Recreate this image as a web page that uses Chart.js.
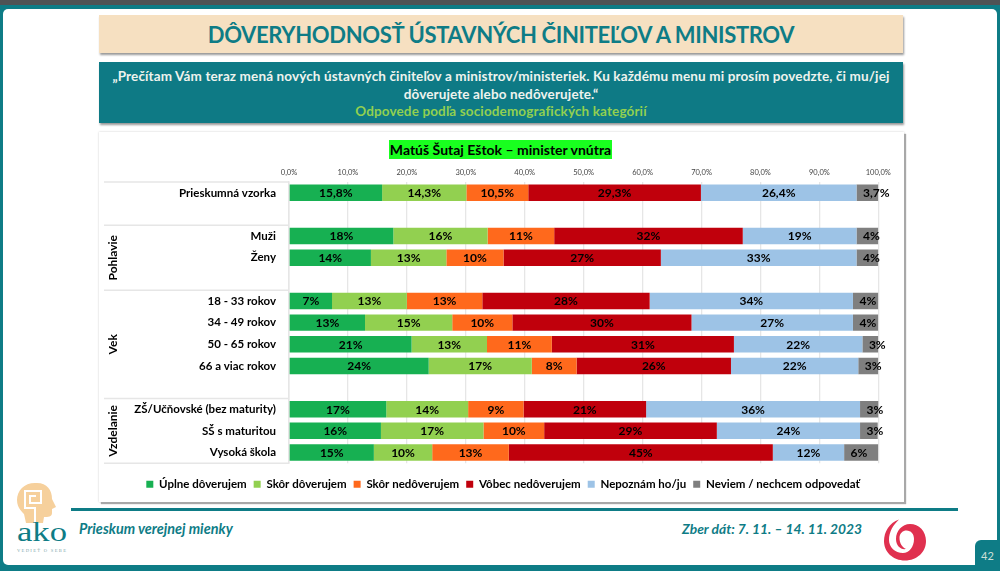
<!DOCTYPE html>
<html lang="sk">
<head>
<meta charset="utf-8">
<title>Dôveryhodnosť ústavných činiteľov a ministrov</title>
<script src="https://cdn.jsdelivr.net/npm/chart.js@4"></script>
<style>
    html, body { margin: 0; padding: 0; }
    body { position: relative; width: 1000px; height: 571px; overflow: hidden; background: #0e7c86; font-family: Lato, sans-serif; }
    .abs { position: absolute; }
    #topBar { left: 0; top: 0; width: 1000px; height: 5px; background: #4f5355; }
    #sheet { left: 3px; top: 9px; width: 994px; height: 556px; background: #fff; border-radius: 5px; }
    #titleBox { left: 99px; top: 15px; width: 804px; height: 38px; background: #f6e0c1; box-shadow: 1px 2px 2px #999;
        color: #0e7c86; font-weight: 700; font-size: 22px; letter-spacing: -0.35px; line-height: 40px; text-align: center; white-space: nowrap; }
    #questionBox { left: 99px; top: 62px; width: 804px; height: 61px; background: #0e7a85; box-shadow: 1px 2px 2px #999;
        color: #eef3ee; font-weight: 700; font-size: 13.5px; letter-spacing: 0.13px; line-height: 17.6px; text-align: center; padding-top: 6px; box-sizing: border-box; white-space: nowrap; }
    #questionBox .sub { color: #92d050; }
    #chartBox { left: 99px; top: 132px; width: 805px; height: 370px; background: #fff; box-shadow: 2px 2px 1px #a8a8a8, 0 0 2px #ccc; }
    #nameBox { left: 389px; top: 140px; width: 223px; height: 19px; background: #19ff1f; color: #000;
        font-weight: 700; font-size: 14px; line-height: 19px; text-align: center; white-space: nowrap; }
    #footLine { left: 71px; top: 508px; width: 887px; height: 3px; background: #0e7c86; }
    .foot { top: 520px; color: #0e7c86; font-weight: 700; font-style: italic; line-height: 18px; white-space: nowrap; }
    #pageBox { left: 975px; top: 540px; width: 25px; height: 31px; background: #0e7c86; border-top-left-radius: 6px; color: #cfe0d8; font-size: 11px; line-height: 31px; text-align: center; }
    #trustChart { display: block; }
</style>
</head>
<body>
<div class="abs" id="topBar"></div>
<div class="abs" id="sheet"></div>
<div class="abs" id="titleBox">DÔVERYHODNOSŤ ÚSTAVNÝCH ČINITEĽOV A MINISTROV</div>
<div class="abs" id="questionBox">„Prečítam Vám teraz mená nových ústavných činiteľov a ministrov/ministeriek. Ku každému menu mi prosím povedzte, či mu/jej<br>dôverujete alebo nedôverujete.“<br><span class="sub">Odpovede podľa sociodemografických kategórií</span></div>
<div class="abs" id="chartBox"><canvas id="trustChart" width="805" height="370"></canvas></div>
<div class="abs" id="nameBox">Matúš Šutaj Eštok – minister vnútra</div>
<div class="abs" id="footLine"></div>
<div class="abs foot" style="left:79px;font-size:14.4px">Prieskum verejnej mienky</div>
<div class="abs foot" style="left:682px;font-size:13.8px">Zber dát: 7. 11. – 14. 11. 2023</div>
<div class="abs" id="pageBox">42</div>

<!-- ako logo -->
<svg class="abs" style="left:14px;top:480px" width="58" height="80" viewBox="14 480 58 80">
    <path d="M37 483 C25 482 17 490 17 500 C17 507 21 511 24 514 L26 523 L43 523 L44 517 C48 517 52 517 52 513 L52 509 L56 507 L52 499 C52 490 47 483 37 483 Z" fill="#f6d09c"/>
    <path d="M35 523 V508 H25 V491 H41 V503 H30 V496 H36" fill="none" stroke="#fff" stroke-width="2"/>
    <text x="17" y="541" textLength="50" lengthAdjust="spacingAndGlyphs" font-family="'Liberation Serif', serif" font-size="27" fill="#0e7c86">ako</text>
    <text x="17" y="552" textLength="49" font-family="'Liberation Serif', serif" font-size="4.6" fill="#7fa9ac">VEDIEŤ O SEBE</text>
</svg>
<!-- spiral logo -->
<svg class="abs" style="left:882px;top:518px" width="46" height="44" viewBox="882 518 46 44">
    <path d="M899 519.5 C889 523 884 532 884 541 C884 552 893 560.5 905 560.5 C917 560.5 926 552 926 541 C926 531 919 524 910 524 C902 524 896 531 896 539 C896 546 901 550 906 549 C902 547 899.5 543 899.5 538 C899.5 533 903 530.5 906.5 530.5 C911 530.5 914 534 914 539 C914 547 909 553 903 553 C895 553 889 547 889 540 C889 532 893 525 899 519.5 Z" fill="#e0304f"/>
</svg>

<script>
// Rows of the chart, blank entries are the gaps between the groups
const categories = [
    'Prieskumná vzorka', '',
    'Muži', 'Ženy', '',
    '18 - 33 rokov', '34 - 49 rokov', '50 - 65 rokov', '66 a viac rokov', '',
    'ZŠ/Učňovské (bez maturity)', 'SŠ s maturitou', 'Vysoká škola'
];

const seriesNames = ['Úplne dôverujem', 'Skôr dôverujem', 'Skôr nedôverujem', 'Vôbec nedôverujem', 'Nepoznám ho/ju', 'Neviem / nechcem odpovedať'];
const seriesColors = ['#17b052', '#92d050', '#ff691c', '#c0000c', '#9dc3e6', '#7f7f7f'];

// Bar lengths (the bars are scaled to fill 100 %)
const fullyTrust  = [15.8, null, 17.7, 13.9, null,  7.3, 12.9, 20.8, 23.7, null, 16.5, 15.6, 14.4];
const ratherTrust = [14.3, null, 16.0, 12.8, null, 12.7, 14.8, 12.8, 17.5, null, 13.9, 17.4,  9.9];
const ratherNot   = [10.5, null, 11.3,  9.7, null, 12.8, 10.2, 11.0,  7.6, null,  9.4, 10.3, 13.0];
const notAtAll    = [29.3, null, 32.0, 26.7, null, 28.4, 30.4, 30.9, 26.2, null, 20.8, 29.3, 44.8];
const unknownHim  = [26.4, null, 19.3, 33.2, null, 34.5, 27.4, 21.8, 21.6, null, 36.3, 24.3, 12.1];
const noAnswer    = [ 3.7, null,  3.7,  3.7, null,  4.3,  4.3,  2.7,  3.4, null,  3.2,  3.0,  5.8];

// Printed labels, they differ a little from the bar lengths
const fullyTrustText  = ['15,8%', '', '18%', '14%', '', '7%', '13%', '21%', '24%', '', '17%', '16%', '15%'];
const ratherTrustText = ['14,3%', '', '16%', '13%', '', '13%', '15%', '13%', '17%', '', '14%', '17%', '10%'];
const ratherNotText   = ['10,5%', '', '11%', '10%', '', '13%', '10%', '11%', '8%', '', '9%', '10%', '13%'];
const notAtAllText    = ['29,3%', '', '32%', '27%', '', '28%', '30%', '31%', '26%', '', '21%', '29%', '45%'];
const unknownHimText  = ['26,4%', '', '19%', '33%', '', '34%', '27%', '22%', '22%', '', '36%', '24%', '12%'];
const noAnswerText    = ['3,7%', '', '4%', '4%', '', '4%', '4%', '3%', '3%', '', '3%', '3%', '6%'];

const xTicks = ['0,0%', '10,0%', '20,0%', '30,0%', '40,0%', '50,0%', '60,0%', '70,0%', '80,0%', '90,0%', '100,0%'];

// Side groups: first and last row of each
const groupNames = ['Pohlavie', 'Vek', 'Vzdelanie'];
const groupFirst = [2, 5, 10];
const groupLast  = [4, 9, 12];

const seriesValues = [fullyTrust, ratherTrust, ratherNot, notAtAll, unknownHim, noAnswer];
const seriesTexts = [fullyTrustText, ratherTrustText, ratherNotText, notAtAllText, unknownHimText, noAnswerText];

const LINE_COLOR = '#e6e6e6';
const FONT = 'Lato, sans-serif';

// Percent labels inside the bars
const barLabels = {
    id: 'barLabels',
    afterDatasetsDraw(chart) {
        const ctx = chart.ctx;
        ctx.save();
        ctx.font = '700 12px ' + FONT;
        ctx.fillStyle = '#000';
        ctx.textBaseline = 'middle';
        chart.data.datasets.forEach((ds, i) => {
            chart.getDatasetMeta(i).data.forEach((bar, j) => {
                const text = seriesTexts[i][j];
                if (!text) return;
                if (i === seriesTexts.length - 1) {
                    // last segment is too narrow, its label starts near the left edge
                    ctx.textAlign = 'left';
                    ctx.fillText(text, bar.base + 6.5, bar.y + 0.5);
                } else {
                    ctx.textAlign = 'center';
                    ctx.fillText(text, (bar.base + bar.x) / 2, bar.y + 0.5);
                }
            });
        });
        ctx.restore();
    }
};

// Separator lines and rotated group names left of the bars
const groupAxis = {
    id: 'groupAxis',
    afterDraw(chart) {
        const ctx = chart.ctx;
        const y = chart.scales.y;
        const left = 5;
        const right = chart.chartArea.left;
        const edge = i => y.getPixelForValue(i) + (y.getPixelForValue(1) - y.getPixelForValue(0)) / 2;
        ctx.save();
        ctx.strokeStyle = LINE_COLOR;
        ctx.lineWidth = 1.5;
        const lines = [y.top, edge(groupFirst[0] - 1)].concat(groupLast.map(i => edge(i)));
        lines.forEach(pos => {
            ctx.beginPath();
            ctx.moveTo(left, pos);
            ctx.lineTo(right, pos);
            ctx.stroke();
        });
        ctx.fillStyle = '#000';
        ctx.font = '700 12px ' + FONT;
        ctx.textAlign = 'center';
        ctx.textBaseline = 'middle';
        groupNames.forEach((name, i) => {
            const mid = (edge(groupFirst[i] - 1) + edge(groupLast[i])) / 2;
            ctx.save();
            ctx.translate(left + 9, mid);
            ctx.rotate(-Math.PI / 2);
            ctx.fillText(name, 0, 0);
            ctx.restore();
        });
        ctx.restore();
    }
};

new Chart(document.getElementById('trustChart').getContext('2d'), {
    type: 'bar',
    data: {
        labels: categories,
        datasets: seriesNames.map((name, i) => ({
            label: name,
            data: seriesValues[i],
            backgroundColor: seriesColors[i],
            categoryPercentage: 1,
            barPercentage: 0.76
        }))
    },
    options: {
        indexAxis: 'y',
        responsive: false,
        maintainAspectRatio: false,
        animation: false,
        // left padding is larger so the legend is centred like the original
        layout: { padding: { left: 28.7, right: 25.7, top: 30, bottom: 2 } },
        scales: {
            x: {
                position: 'top',
                stacked: true,
                min: 0,
                max: 100,
                afterFit(scale) { scale.height = 20; },
                afterBuildTicks(scale) { scale.ticks = xTicks.map((t, i) => ({ value: i * 10 })); },
                grid: { color: LINE_COLOR, lineWidth: 1.3, drawTicks: false },
                border: { display: false },
                ticks: {
                    autoSkip: false,
                    maxRotation: 0,
                    padding: 5,
                    color: '#444',
                    font: { family: FONT, size: 7.5 },
                    callback(value) { return xTicks[value / 10]; }
                }
            },
            y: {
                stacked: true,
                afterFit(scale) { scale.width = 161.3; },
                grid: { display: false },
                border: { display: true, color: LINE_COLOR, width: 1.5 },
                ticks: {
                    autoSkip: false,
                    padding: 5,
                    color: '#000',
                    font: { family: FONT, size: 11.5, weight: '700' }
                }
            }
        },
        plugins: {
            legend: {
                position: 'bottom',
                // empty title only adds the gap above the legend row
                title: { display: true, text: ' ', font: { size: 1 }, padding: { top: 0, bottom: 7 } },
                labels: {
                    boxWidth: 7,
                    boxHeight: 7,
                    padding: 7,
                    color: '#000',
                    font: { family: FONT, size: 11.5, weight: '700' }
                }
            },
            title: { display: false },
            tooltip: { enabled: false }
        }
    },
    plugins: [barLabels, groupAxis]
});
</script>
</body>
</html>
